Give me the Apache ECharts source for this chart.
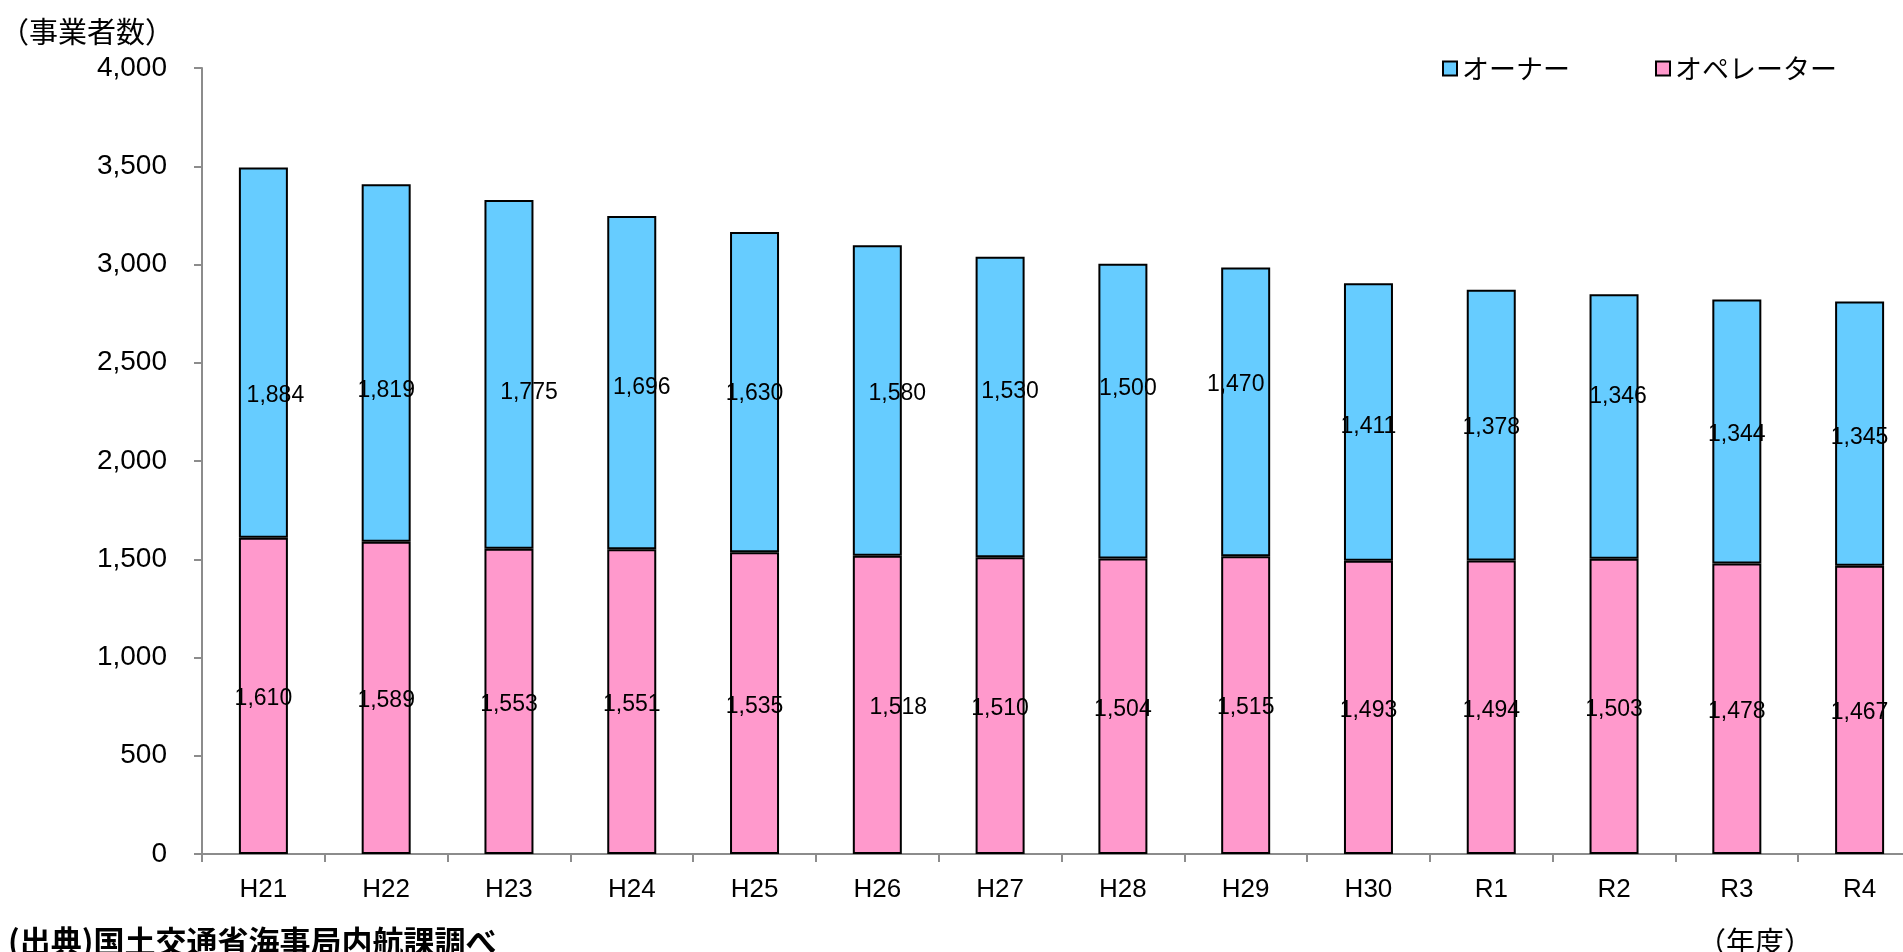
<!DOCTYPE html>
<html>
<head>
<meta charset="utf-8">
<script src="https://cdn.jsdelivr.net/npm/echarts@6/dist/echarts.min.js"></script>
<style>
html,body{margin:0;padding:0;background:#fff;overflow:hidden;width:1903px;height:952px;}
#chart{width:1921px;height:952px;}
</style>
</head>
<body>
<div id="chart"></div>
<script>
const categories = ['H21','H22','H23','H24','H25','H26','H27','H28','H29','H30','R1','R2','R3','R4'];
const operatorValues = [1610,1589,1553,1551,1535,1518,1510,1504,1515,1493,1494,1503,1478,1467];
const ownerValues = [1884,1819,1775,1696,1630,1580,1530,1500,1470,1411,1378,1346,1344,1345];
const yTicks = [0,500,1000,1500,2000,2500,3000,3500,4000];
const seriesNames = ['オーナー','オペレーター'];
// label nudges (style only): [dx, dy] in px
const ownerLabelNudge = [[12,43],[0,28],[20,18],[10,5],[0,1],[20,-7],[10,-15],[5,-22],[-10,-27],[0,5],[0,3],[4,-30],[0,3],[0,4]];
const operatorLabelNudge = [[0,3],[0,3],[0,3],[0,3],[0,3],[21,3],[0,3],[0,3],[0,3],[0,3],[0,3],[0,3],[0,3],[0,3]];

const fmt = v => Number(v).toLocaleString('en-US');
const NUM_FONT = '"Liberation Sans", Arial, sans-serif';
const JP_FONT = '"Noto Sans CJK JP", sans-serif';

function build(values, nudges) {
  return values.map((v, i) => ({
    value: v,
    label: { offset: nudges[i] }
  }));
}

const chart = echarts.init(document.getElementById('chart'));
chart.setOption({
  animation: false,
  backgroundColor: '#ffffff',
  grid: { left: 202, top: 68, right: 0, bottom: 98 },
  legend: {
    data: seriesNames,
    left: 1442,
    top: 55,
    padding: 0,
    itemGap: 85,
    itemWidth: 14,
    itemHeight: 14,
    icon: 'rect',
    textStyle: { fontFamily: JP_FONT, fontSize: 27, color: '#000' }
  },
  xAxis: {
    type: 'category',
    data: categories,
    axisLine: { lineStyle: { color: '#8c8c8c', width: 2 } },
    axisTick: { show: true, length: 8, lineStyle: { color: '#8c8c8c', width: 2 } },
    axisLabel: { fontFamily: NUM_FONT, fontSize: 26, color: '#000', margin: 23 },
    splitLine: { show: false }
  },
  yAxis: {
    type: 'value',
    min: yTicks[0],
    max: yTicks[yTicks.length - 1],
    interval: yTicks[1] - yTicks[0],
    axisLine: { show: true, lineStyle: { color: '#8c8c8c', width: 2 } },
    axisTick: { show: true, length: 8, lineStyle: { color: '#8c8c8c', width: 2 } },
    axisLabel: { fontFamily: NUM_FONT, fontSize: 28, color: '#000', margin: 35, formatter: fmt },
    splitLine: { show: false }
  },
  series: [
    {
      name: seriesNames[1],
      type: 'bar',
      stack: 'total',
      barWidth: 49,
      data: build(operatorValues, operatorLabelNudge),
      itemStyle: { color: '#FF99CC', borderColor: '#000', borderWidth: 2 },
      label: { show: true, position: 'inside', fontFamily: NUM_FONT, fontSize: 23, color: '#000', formatter: p => fmt(p.value) }
    },
    {
      name: seriesNames[0],
      type: 'bar',
      stack: 'total',
      barWidth: 49,
      data: build(ownerValues, ownerLabelNudge),
      itemStyle: { color: '#66CCFF', borderColor: '#000', borderWidth: 2 },
      label: { show: true, position: 'inside', fontFamily: NUM_FONT, fontSize: 23, color: '#000', formatter: p => fmt(p.value) }
    }
  ],
  graphic: [
    { type: 'text', left: 0, top: 17, style: { text: '（事業者数）', font: '29px "Noto Sans CJK JP"', fill: '#000' } },
    { type: 'text', left: 1697, top: 927, style: { text: '（年度）', font: '29px "Noto Sans CJK JP"', fill: '#000' } },
    { type: 'text', left: 8, top: 926, style: { text: '(出典)国土交通省海事局内航課調べ', font: 'bold 31px "Noto Sans CJK JP"', fill: '#000' } }
  ]
});
</script>
</body>
</html>
